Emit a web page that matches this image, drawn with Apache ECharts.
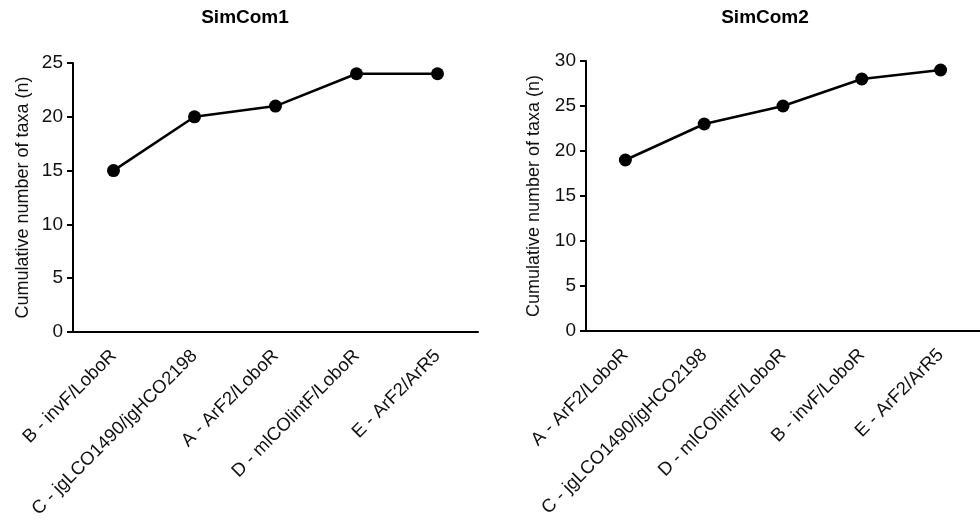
<!DOCTYPE html>
<html><head><meta charset="utf-8">
<script src="https://cdn.jsdelivr.net/npm/echarts@6/dist/echarts.min.js"></script>
<style>html,body{margin:0;padding:0;background:#fff}#c{width:980px;height:523px}</style>
</head><body><div id="c"></div>
<script>
const categories1 = ["B - invF/LoboR", "C - jgLCO1490/jgHCO2198", "A - ArF2/LoboR", "D - mlCOlintF/LoboR", "E - ArF2/ArR5"];
const values1 = [15, 20, 21, 24, 24];
const categories2 = ["A - ArF2/LoboR", "C - jgLCO1490/jgHCO2198", "D - mlCOlintF/LoboR", "B - invF/LoboR", "E - ArF2/ArR5"];
const values2 = [19, 23, 25, 28, 29];
const titles = ["SimCom1", "SimCom2"];
const yName = "Cumulative number of taxa (n)";

const FONT = "Liberation Sans";
const chart = echarts.init(document.getElementById('c'), null, {renderer: 'canvas'});
function xAxis(idx, cats) {
  return {
    type: 'category', gridIndex: idx, data: cats, boundaryGap: true,
    axisLine: {lineStyle: {color: '#000', width: 2}},
    axisTick: {alignWithLabel: true, length: 6, lineStyle: {color: '#000', width: 2}},
    axisLabel: {rotate: 45, margin: 21, color: '#111', fontFamily: FONT, fontSize: 18.5, interval: 0}
  };
}
function yAxis(idx, max, gap) {
  return {
    type: 'value', gridIndex: idx, min: 0, max: max, interval: 5,
    name: yName, nameLocation: 'middle', nameGap: gap,
    nameTextStyle: {color: '#111', fontFamily: FONT, fontSize: 18},
    axisLine: {show: true, lineStyle: {color: '#000', width: 2}},
    axisTick: {show: true, length: 6, lineStyle: {color: '#000', width: 2}},
    axisLabel: {margin: 10, color: '#111', fontFamily: FONT, fontSize: 19},
    splitLine: {show: false}
  };
}
function series(idx, vals) {
  return {
    type: 'line', xAxisIndex: idx, yAxisIndex: idx, data: vals,
    symbol: 'circle', symbolSize: 13, showSymbol: true,
    lineStyle: {color: '#000', width: 2.5}, itemStyle: {color: '#000'},
    animation: false
  };
}
chart.setOption({
  animation: false,
  title: [
    {text: titles[0], left: 245, top: 8, textAlign: 'center', padding: 0,
     textStyle: {fontFamily: FONT, fontWeight: 'bold', fontSize: 19, color: '#000'}},
    {text: titles[1], left: 765, top: 8, textAlign: 'center', padding: 0,
     textStyle: {fontFamily: FONT, fontWeight: 'bold', fontSize: 19, color: '#000'}}
  ],
  grid: [
    {left: 73, top: 63, width: 405, height: 269},
    {left: 586, top: 61, width: 405, height: 270}
  ],
  xAxis: [xAxis(0, categories1), xAxis(1, categories2)],
  yAxis: [yAxis(0, 25, 41), yAxis(1, 30, 43)],
  series: [series(0, values1), series(1, values2)]
});
</script></body></html>
